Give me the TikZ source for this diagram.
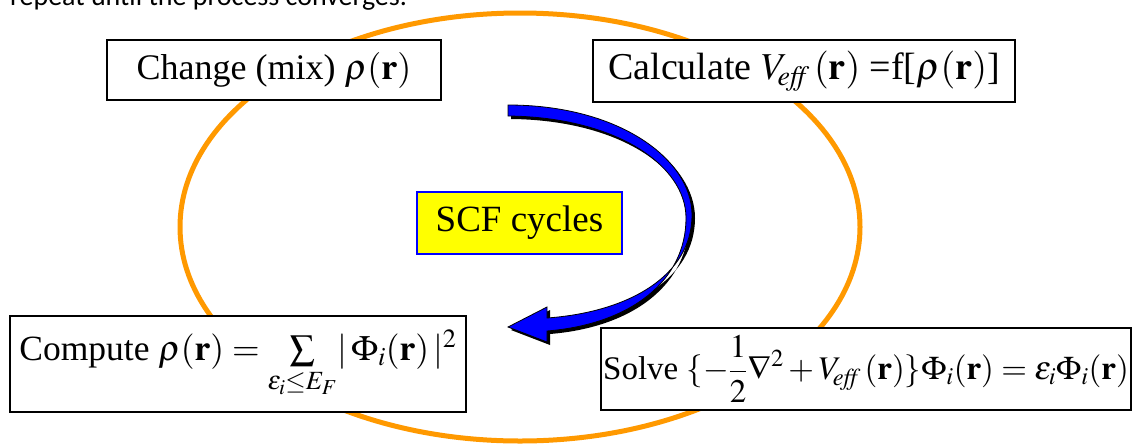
\RequirePackage{fix-cm}
\documentclass[tikz,border=0pt]{standalone}
\IfFileExists{mathptmx.sty}{\usepackage{mathptmx}}{}
\usepackage{fontspec}
\setmainfont{Liberation Serif}
\newfontfamily\topfont{Carlito}
\definecolor{cycorange}{RGB}{255,153,0}
\definecolor{scfblue}{RGB}{0,0,255}
\definecolor{scfyellow}{RGB}{255,255,0}
\tikzset{
  stepbox/.style={draw=black, line width=2pt, fill=white, inner sep=0pt, align=center, font=\fontsize{36}{40}\selectfont},
  cycleline/.style={draw=cycorange, line width=5pt},
  scflabel/.style={draw=scfblue, line width=2pt, fill=scfyellow, inner sep=0pt, font=\fontsize{37}{40}\selectfont},
}
\begin{document}
\begin{tikzpicture}[x=1pt,y=-1pt]
\useasboundingbox (0,0) rectangle (1132,445);
\clip (0,0) rectangle (1132,445);
\node[anchor=base west, font=\topfont\fontsize{28}{30}\selectfont, inner sep=0pt] (note) at (10,5) {repeat until the process converges.};
\draw[cycleline] (520,227) ellipse [x radius=340, y radius=214];
\node[stepbox, minimum width=334, minimum height=60] (mix) at (274,70) {Change (mix) $\rho(\mathbf{r})$};
\node[stepbox, minimum width=422, minimum height=62, font=\fontsize{38}{40}\selectfont] (veff) at (804,71) {Calculate $V_{\!\mathit{eff}}\,(\mathbf{r})$ =f[$\rho(\mathbf{r})$]};
\node[stepbox, minimum width=456, minimum height=96, font=\fontsize{35.5}{40}\selectfont] (dens) at (238,364) {Compute $\rho(\mathbf{r}) = \sum\limits_{\varepsilon_i\le E_F}\! |\,\Phi_i(\mathbf{r})\,|^2$};
\node[stepbox, minimum width=530, minimum height=82, font=\fontsize{33}{36}\selectfont] (solve) at (866,369) {Solve $\displaystyle\{-\frac{1}{2}\nabla^2 + V_{\!\mathit{eff}}\,(\mathbf{r})\}\Phi_i(\mathbf{r}) = \varepsilon_i\Phi_i(\mathbf{r})$};
\begin{scope}[shift={(3,3)}]
\fill[black] (508,105) .. controls (620,105) and (692,160) .. (692,215) .. controls (692,275) and (630,312) .. (547,318) -- (547,307) -- (508,327) -- (547,342) -- (547,331) .. controls (632,324) and (686,280) .. (686,218) .. controls (686,165) and (615,117) .. (508,116) -- cycle;
\end{scope}
\filldraw[fill=scfblue, draw=black, line width=0.8pt] (508,105) .. controls (620,105) and (692,160) .. (692,215) .. controls (692,275) and (630,312) .. (547,318) -- (547,307) -- (508,327) -- (547,342) -- (547,331) .. controls (632,324) and (686,280) .. (686,218) .. controls (686,165) and (615,117) .. (508,116) -- cycle;
\node[scflabel, minimum width=205, minimum height=62] (scf) at (519.5,223) {SCF cycles};
\end{tikzpicture}
\end{document}
